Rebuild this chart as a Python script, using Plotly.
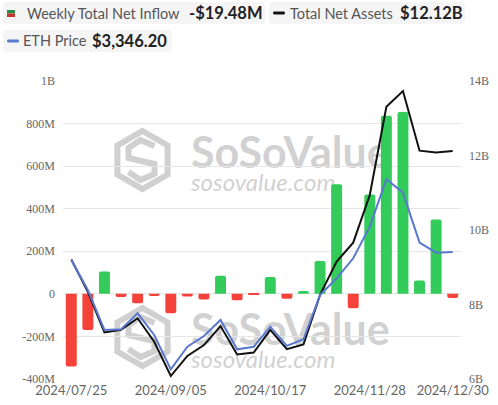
import plotly.graph_objects as go

# ---------------- data ----------------
dates = ["2024/07/25", "2024/08/01", "2024/08/08", "2024/08/15", "2024/08/22", "2024/08/29",
         "2024/09/05", "2024/09/12", "2024/09/19", "2024/09/26", "2024/10/03", "2024/10/10",
         "2024/10/17", "2024/10/24", "2024/10/31", "2024/11/07", "2024/11/14", "2024/11/21",
         "2024/11/28", "2024/12/05", "2024/12/12", "2024/12/19", "2024/12/26", "2024/12/30"]
net_inflow_m = [-341.8, -169.4, 104.8, -14.5, -44.7, -10.0, -91.2, -12.9, -26.2, 85.1, -30.5, -3.0,
                78.7, -23.0, 13.2, 154.7, 515.2, -67.3, 467.2, 836.7, 854.7, 62.7, 349.2, -19.48]
total_assets_b = [9.21, 8.34, 7.25, 7.32, 7.63, 7.00, 6.08, 6.62, 6.91, 7.42, 6.66, 6.71,
                  7.32, 6.80, 6.93, 8.26, 9.15, 9.66, 10.94, 13.31, 13.73, 12.13, 12.08, 12.12]
eth_price = [3275, 3008, 2653, 2659, 2801, 2608, 2303, 2504, 2599, 2742, 2481, 2504,
             2682, 2511, 2570, 2964, 3112, 3290, 3571, 3993, 3873, 3429, 3340, 3346.20]

left_ticks = [-400e6, -200e6, 0, 200e6, 400e6, 600e6, 800e6, 1e9]
left_text = ["-400M", "-200M", "0", "200M", "400M", "600M", "800M", "1B"]
right_ticks = [6e9, 8e9, 10e9, 12e9, 14e9]
right_text = ["6B", "8B", "10B", "12B", "14B"]
x_tick_dates = ["2024/07/25", "2024/09/05", "2024/10/17", "2024/11/28", "2024/12/30"]

GREEN = "#33cc5a"
RED = "#f5433b"
BLUE = "#5a78d0"

W, H = 498, 405
L, R, T, B = 63, 461, 81, 379


def px(x):
    return (x - L) / (R - L)


def py(y):
    return (B - y) / (B - T)


def path_from(points, close=True):
    s = "M " + " L ".join(f"{px(a):.5f},{py(b):.5f}" for a, b in points)
    return s + (" Z" if close else "")


def rrect(x0, y0, x1, y1, r):
    def p(a, b):
        return f"{px(a):.5f},{py(b):.5f}"
    return (f"M {p(x0 + r, y0)} L {p(x1 - r, y0)} Q {p(x1, y0)} {p(x1, y0 + r)} "
            f"L {p(x1, y1 - r)} Q {p(x1, y1)} {p(x1 - r, y1)} L {p(x0 + r, y1)} "
            f"Q {p(x0, y1)} {p(x0, y1 - r)} L {p(x0, y0 + r)} Q {p(x0, y0)} {p(x0 + r, y0)} Z")


fig = go.Figure()

bar_vals = [v * 1e6 for v in net_inflow_m]
fig.add_trace(go.Bar(
    x=dates, y=bar_vals, yaxis="y",
    marker=dict(color=[GREEN if v >= 0 else RED for v in bar_vals], cornerradius=2, line=dict(width=0)),
    showlegend=False,
))
fig.add_trace(go.Scatter(
    x=dates, y=eth_price, yaxis="y3", mode="lines",
    line=dict(color=BLUE, width=2), showlegend=False,
))
fig.add_trace(go.Scatter(
    x=dates, y=[v * 1e9 for v in total_assets_b], yaxis="y2", mode="lines",
    line=dict(color="#111111", width=2), showlegend=False,
))

shapes = []
annotations = []

# ---------- watermarks ----------
WM = "rgba(170,170,170,0.55)"
for dy in (0, 177):
    cx, cy, rr = 142.5, 160 + dy, 29
    hexpts = [(cx, cy - rr), (cx + 0.866 * rr, cy - rr / 2), (cx + 0.866 * rr, cy + rr / 2),
              (cx, cy + rr), (cx - 0.866 * rr, cy + rr / 2), (cx - 0.866 * rr, cy - rr / 2)]
    shapes.append(dict(type="path", xref="paper", yref="paper", layer="below",
                       path=path_from(hexpts), line=dict(color=WM, width=6)))
    spts = [(cx + 12, cy - 14), (cx - 2, cy - 20), (cx - 14, cy - 12), (cx - 14, cy - 2),
            (cx + 12, cy + 4), (cx + 12, cy + 14), (cx - 2, cy + 20), (cx - 14, cy + 12)]
    shapes.append(dict(type="path", xref="paper", yref="paper", layer="below",
                       path=path_from(spts, close=False), line=dict(color=WM, width=6)))
    shapes.append(dict(type="rect", xref="paper", yref="paper", layer="below",
                       x0=px(186), x1=px(420), y0=py(168 + dy), y1=py(132 + dy),
                       line=dict(width=0), fillcolor="rgba(0,0,0,0)",
                       label=dict(text="<b>SoSoValue</b>", textposition="middle left",
                                  padding=2,
                                  font=dict(family="Lato", size=43, color=WM))))
    shapes.append(dict(type="rect", xref="paper", yref="paper", layer="below",
                       x0=px(186), x1=px(380), y0=py(193 + dy), y1=py(170 + dy),
                       line=dict(width=0), fillcolor="rgba(0,0,0,0)",
                       label=dict(text="<i>sosovalue.com</i>", textposition="middle left",
                                  padding=2,
                                  font=dict(family="Lato", size=24, color=WM))))

# ---------- legend boxes ----------
BOXC = "#f5f5f6"
shapes.append(dict(type="path", xref="paper", yref="paper", layer="above",
                   path=rrect(3, 2, 265, 24, 4), fillcolor=BOXC, line=dict(width=0)))
shapes.append(dict(type="path", xref="paper", yref="paper", layer="above",
                   path=rrect(269, 2, 465, 24, 4), fillcolor=BOXC, line=dict(width=0)))
shapes.append(dict(type="path", xref="paper", yref="paper", layer="above",
                   path=rrect(3, 30, 172, 52, 4), fillcolor=BOXC, line=dict(width=0)))
# icons
shapes.append(dict(type="rect", xref="paper", yref="paper", layer="above",
                   x0=px(7), x1=px(15), y0=py(13.5), y1=py(10), fillcolor="#2f8a45", line=dict(width=0)))
shapes.append(dict(type="rect", xref="paper", yref="paper", layer="above",
                   x0=px(7), x1=px(15), y0=py(17), y1=py(13.5), fillcolor="#c8372d", line=dict(width=0)))
shapes.append(dict(type="path", xref="paper", yref="paper", layer="above",
                   path=rrect(273, 11.5, 285, 14.5, 1.5), fillcolor="#111111", line=dict(width=0)))
shapes.append(dict(type="path", xref="paper", yref="paper", layer="above",
                   path=rrect(7, 39.5, 19, 42.5, 1.5), fillcolor=BLUE, line=dict(width=0)))

LABC = "#555555"
VALC = "#222222"


def ann(x, y, text, size, color, bold=False):
    annotations.append(dict(xref="paper", yref="paper", x=px(x), y=py(y), xanchor="left",
                            yanchor="middle", showarrow=False,
                            text=(f"<b>{text}</b>" if bold else text),
                            font=dict(family="Lato", size=size, color=color)))


ann(25, 13, "Weekly Total Net Inflow", 14.5, LABC)
ann(187, 13, f"-${abs(net_inflow_m[-1]):.2f}M", 16.5, VALC, bold=True)
ann(288, 13, "Total Net Assets", 14.5, LABC)
ann(398, 13, f"${total_assets_b[-1]:.2f}B", 16.5, VALC, bold=True)
ann(21, 41, "ETH Price", 14.5, LABC)
ann(90, 41, f"${eth_price[-1]:,.2f}", 16.5, VALC, bold=True)

fig.update_layout(
    width=W, height=H,
    margin=dict(l=L, r=W - R, t=T, b=H - B, pad=0, autoexpand=False),
    paper_bgcolor="white", plot_bgcolor="white",
    bargap=0.34,
    showlegend=False,
    shapes=shapes,
    annotations=annotations,
    xaxis=dict(type="category", tickmode="array", tickvals=x_tick_dates, ticktext=x_tick_dates,
               showgrid=False, showline=False, zeroline=False, ticks="", automargin=False,
               tickfont=dict(family="Lato", size=13, color="#666666"), ticklabelstandoff=2,
               range=[-0.5, len(dates) - 0.5]),
    yaxis=dict(range=[-400e6, 1e9], tickmode="array", tickvals=left_ticks, ticktext=left_text,
               showgrid=True, gridcolor="#e6e6e6", gridwidth=1, zeroline=False, showline=False,
               ticks="", ticklabelstandoff=7, automargin=False,
               tickfont=dict(family="Liberation Serif", size=12, color="#666666")),
    yaxis2=dict(range=[6e9, 14e9], tickmode="array", tickvals=right_ticks, ticktext=right_text,
                overlaying="y", side="right", showgrid=False, zeroline=False, showline=False,
                ticks="", ticklabelstandoff=7, automargin=False,
                tickfont=dict(family="Liberation Serif", size=12, color="#666666")),
    yaxis3=dict(range=[2217, 4866], overlaying="y", visible=False, showgrid=False, automargin=False),
)

fig.write_html("out.html")
